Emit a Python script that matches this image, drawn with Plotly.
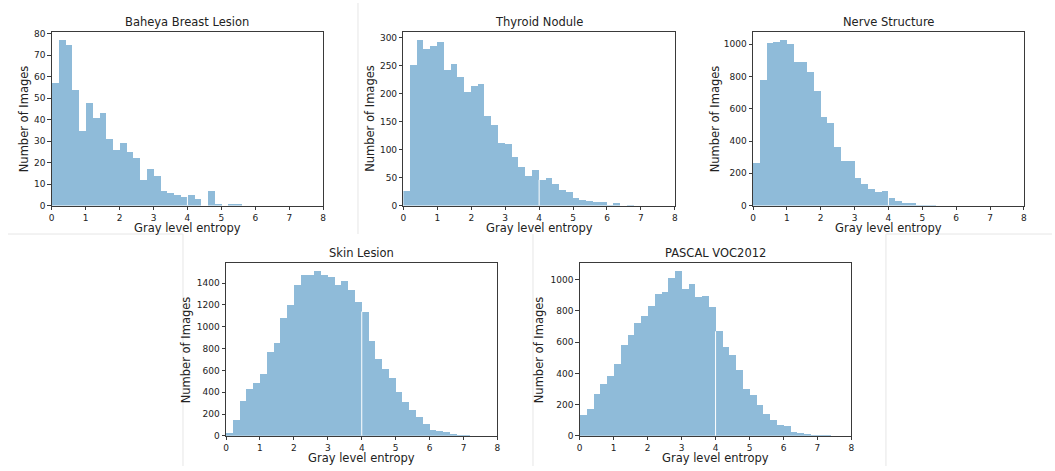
import plotly.graph_objects as go

# ---------------- data ----------------
BIN_START = 0.0
BIN_WIDTH = 0.2
N_BINS = 40

titles = ["Baheya Breast Lesion", "Thyroid Nodule", "Nerve Structure",
          "Skin Lesion", "PASCAL VOC2012"]

baheya = [57, 77, 75, 54, 35, 48, 41, 43, 31, 26, 29, 25, 22, 12, 17, 14, 7, 6, 5, 4,
          5, 3, 0, 7, 1, 0, 1, 1] + [0] * 12
thyroid = [26, 252, 296, 281, 286, 293, 242, 254, 230, 204, 215, 218, 160, 145, 113, 110,
           88, 70, 53, 63, 46, 50, 38, 28, 25, 13, 11, 8, 7, 6, 2, 4, 0, 1] + [0] * 6
nerve = [266, 779, 1008, 1014, 1026, 1006, 892, 892, 830, 712, 552, 511, 365, 280, 280,
         170, 134, 105, 85, 89, 49, 30, 14, 14, 6, 4, 3, 1] + [0] * 12
skin = [30, 144, 323, 434, 488, 568, 766, 855, 1080, 1197, 1382, 1481, 1478, 1511, 1481,
        1460, 1388, 1421, 1343, 1226, 1140, 870, 703, 613, 535, 407, 311, 242, 173, 114,
        51, 45, 33, 18, 9, 6, 3] + [0] * 3
pascal = [136, 173, 267, 334, 384, 461, 582, 649, 727, 770, 833, 912, 925, 1010, 1056,
          939, 975, 894, 896, 825, 670, 572, 520, 422, 301, 263, 200, 140, 102, 69, 61,
          27, 21, 10, 8, 4, 4] + [0] * 3

series = [baheya, thyroid, nerve, skin, pascal]
y_dticks = [10, 50, 200, 200, 200]
x_ticks = list(range(9))
x_label = "Gray level entropy"
y_label = "Number of Images"

# ---------------- layout (pixels) ----------------
W, H = 1055, 471
FONT = "DejaVu Sans"
TXT = "#222222"
BAR = "rgba(31,119,180,0.5)"

# plot area boxes: (left, right, top, bottom) in px
boxes = [
    (49.0, 322.0, 29.3, 206.0),
    (402.7, 675.7, 29.3, 206.0),
    (754.3, 1026.7, 29.3, 206.0),
    (224.3, 497.3, 264.3, 440.3),
    (580.0, 853.3, 264.3, 440.3),
]
ylabel_x = [20.7, 368.3, 715.7, 184.0, 539.0]


def px(x):
    return x / W


def py(y):
    return 1 - y / H


x_centers = [BIN_START + (i + 0.5) * BIN_WIDTH for i in range(N_BINS)]
split_bin = 20  # left edge at entropy 4 shows a thin white line

fig = go.Figure()
layout = dict(
    width=W, height=H,
    margin=dict(l=0, r=0, t=0, b=0),
    paper_bgcolor="white", plot_bgcolor="white",
    showlegend=False,
    bargap=0,
    font=dict(family=FONT, color=TXT, size=9),
)
annotations = []
shapes = []

for i, (vals, title) in enumerate(zip(series, titles)):
    n = i + 1
    xa = "x" if n == 1 else f"x{n}"
    ya = "y" if n == 1 else f"y{n}"
    l, r, t, b = boxes[i]
    fig.add_trace(go.Bar(x=x_centers, y=vals, width=BIN_WIDTH,
                         marker=dict(color=BAR, line=dict(width=0)),
                         xaxis=xa, yaxis=ya, hoverinfo="x+y"))
    ymax = max(vals) * 1.05
    axis_common = dict(showline=True, linecolor="#3a3a3a", linewidth=1, mirror=True,
                       ticks="outside", ticklen=3.5, tickwidth=1, tickcolor="#3a3a3a",
                       showgrid=False, zeroline=False,
                       tickfont=dict(family=FONT, size=9, color=TXT))
    layout[("xaxis" if n == 1 else f"xaxis{n}")] = dict(
        domain=[px(l), px(r)], anchor=ya, range=[0, 8],
        tickmode="array", tickvals=x_ticks, ticktext=[str(v) for v in x_ticks],
        **axis_common)
    layout[("yaxis" if n == 1 else f"yaxis{n}")] = dict(
        domain=[py(b), py(t)], anchor=xa, range=[0, ymax],
        tick0=0, dtick=y_dticks[i], **axis_common)

    cx = (l + r) / 2
    annotations.append(dict(text=title, x=px(cx), y=py(t - 9.5), xref="paper", yref="paper",
                            showarrow=False, xanchor="center", yanchor="middle",
                            font=dict(family=FONT, size=11.5, color=TXT)))
    annotations.append(dict(text=x_label, x=px(cx), y=py(b + 22.5), xref="paper", yref="paper",
                            showarrow=False, xanchor="center", yanchor="middle",
                            font=dict(family=FONT, size=11.5, color=TXT)))
    annotations.append(dict(text=y_label, x=px(ylabel_x[i]), y=py((t + b) / 2),
                            xref="paper", yref="paper", textangle=-90,
                            showarrow=False, xanchor="center", yanchor="middle",
                            font=dict(family=FONT, size=11.5, color=TXT)))
    # thin white seam at entropy 4
    shapes.append(dict(type="line", xref=xa, yref=ya,
                       x0=BIN_START + split_bin * BIN_WIDTH, x1=BIN_START + split_bin * BIN_WIDTH,
                       y0=0, y1=vals[split_bin],
                       line=dict(color="white", width=1)))

# faint separators between panels (figure decoration)
SEP = "#e6e6e6"
seps = [
    (357, 0, 357, 235),
    (5, 235, 181, 235),
    (181, 235, 181, 471),
    (533, 235, 533, 471),
    (888, 235, 1055, 235),
    (888, 235, 888, 471),
]
for x0, y0, x1, y1 in seps:
    shapes.append(dict(type="line", xref="paper", yref="paper",
                       x0=px(x0), y0=py(y0), x1=px(x1), y1=py(y1),
                       line=dict(color=SEP, width=1), layer="below"))

layout["annotations"] = annotations
layout["shapes"] = shapes
fig.update_layout(**layout)

fig.write_html("out.html", post_script="document.body.style.margin='0';",
               config={"displayModeBar": False})
